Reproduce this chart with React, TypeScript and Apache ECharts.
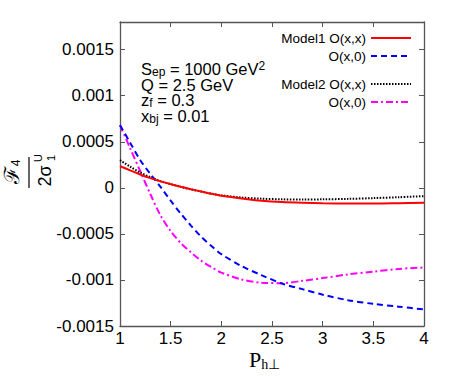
import React, { useEffect, useRef } from 'react';
import * as echarts from 'echarts';

const xValues = [1.0, 1.1, 1.2, 1.3, 1.4, 1.5, 1.6, 1.7, 1.8, 1.9, 2.0, 2.2, 2.4, 2.6, 2.8, 3.0, 3.25, 3.5, 3.75, 4.0];
const model1Oxx = [0.000235, 0.00019, 0.000145, 0.000105, 0.00007, 0.00004, 0.000012, -0.000015, -0.00004, -0.000065, -0.000085, -0.000115, -0.00014, -0.000155, -0.000163, -0.000168, -0.00017, -0.00017, -0.000167, -0.000163];
const model1Ox0 = [0.00068, 0.00049, 0.0003, 0.00015, 0.00001, -0.00014, -0.00028, -0.00041, -0.00053, -0.00063, -0.00072, -0.00085, -0.00095, -0.00104, -0.0011, -0.00116, -0.00122, -0.00126, -0.00129, -0.00132];
const model2Oxx = [0.0003, 0.00023, 0.000165, 0.000115, 0.000072, 0.00004, 0.00001, -0.000017, -0.00004, -0.000063, -0.000082, -0.000105, -0.000118, -0.000125, -0.000127, -0.000125, -0.00012, -0.000112, -0.000102, -0.00009];
const model2Ox0 = [0.00068, 0.00043, 0.00018, -0.00007, -0.0003, -0.00047, -0.0006, -0.0007, -0.00079, -0.00086, -0.00092, -0.000995, -0.00103, -0.001035, -0.00101, -0.00098, -0.00094, -0.00091, -0.00088, -0.000865];

const seriesNames = ['Model1 O(x,x)', 'Model1 O(x,0)', 'Model2 O(x,x)', 'Model2 O(x,0)'];
const yTickValues = [-0.0015, -0.001, -0.0005, 0, 0.0005, 0.001, 0.0015];
const yTickLabels = ['-0.0015', '-0.001', '-0.0005', '0', '0.0005', '0.001', '0.0015'];
const xTickLabels = ['1', '1.5', '2', '2.5', '3', '3.5', '4'];

const SANS = '"Liberation Sans", Arial, Helvetica, sans-serif';
const SERIF = '"Liberation Serif", "Times New Roman", serif';

const pairs = (ys: number[]) => xValues.map((x, i) => [x, ys[i]]);

export default function App() {
  const ref = useRef<HTMLDivElement>(null);
  useEffect(() => {
    document.body.style.margin = '0';
    const chart = echarts.init(ref.current!, null, { renderer: 'svg' });
    const axisColor = '#555';
    const richAnn = {
      b: { fontSize: 16.5, fontFamily: SANS, color: '#000', lineHeight: 18 },
      s: { fontSize: 12, fontFamily: SANS, color: '#000', lineHeight: 6, verticalAlign: 'bottom' },
      p: { fontSize: 12, fontFamily: SANS, color: '#000', lineHeight: 14, verticalAlign: 'top' },
    };
    const annLines = [
      '{b|S}{s|ep}{b| = 1000 GeV}{p|2}',
      '{b|Q = 2.5 GeV}',
      '{b|z}{s|f}{b| = 0.3}',
      '{b|x}{s|bj}{b| = 0.01}',
    ];
    const annTops = [60, 76, 91.5, 107];
    const lineDefs = [
      { color: '#ff0000', type: 'solid' as any },
      { color: '#0000ff', type: [6, 4] },
      { color: '#000000', type: [1.5, 1.5] },
      { color: '#ff00ff', type: [7, 3, 2, 3] },
    ];
    const data = [model1Oxx, model1Ox0, model2Oxx, model2Ox0];
    const legendBase = {
      orient: 'vertical',
      right: 38,
      align: 'right',
      itemWidth: 40,
      itemHeight: 12,
      itemGap: 4,
      padding: 0,
      selectedMode: false,
      itemStyle: { color: 'rgba(0,0,0,0)', borderWidth: 0, borderColor: 'rgba(0,0,0,0)' },
      textStyle: { fontSize: 13.5, fontFamily: SANS, color: '#000' },
      formatter: (n: string) => (n.endsWith('O(x,0)') ? 'O(x,0)' : n),
    };
    const axisLine = { show: true, onZero: false, lineStyle: { color: axisColor, width: 1.3 } };
    const axisTick = { show: true, inside: true, length: 5, lineStyle: { color: axisColor } };
    chart.setOption({
      animation: false,
      backgroundColor: '#fff',
      grid: { left: 120, right: 26, top: 22, bottom: 56 },
      legend: [
        { ...legendBase, top: 31, data: [seriesNames[0], seriesNames[1]] },
        { ...legendBase, top: 77, data: [seriesNames[2], seriesNames[3]] },
      ],
      xAxis: [
        {
          type: 'value', min: 1, max: 4, interval: 0.5, position: 'bottom',
          axisLine, axisTick,
          splitLine: { show: false },
          axisLabel: {
            margin: 4, fontSize: 17, fontFamily: SANS, color: '#000',
            formatter: (v: number) => {
              const i = Math.round((v - 1) / 0.5);
              return xTickLabels[i] ?? '';
            },
          },
        },
        {
          type: 'value', min: 1, max: 4, interval: 0.5, position: 'top',
          axisLine, axisTick,
          axisLabel: { show: false }, splitLine: { show: false },
        },
      ],
      yAxis: [
        {
          type: 'value', min: -0.0015, max: 0.0018, interval: 0.0005, position: 'left',
          axisLine, axisTick,
          splitLine: { show: false },
          axisLabel: {
            margin: 6, fontSize: 17, fontFamily: SANS, color: '#000', showMaxLabel: false,
            formatter: (v: number) => {
              const i = yTickValues.findIndex((t) => Math.abs(t - v) < 1e-9);
              return i >= 0 ? yTickLabels[i] : '';
            },
          },
        },
        {
          type: 'value', min: -0.0015, max: 0.0018, interval: 0.0005, position: 'right',
          axisLine, axisTick,
          axisLabel: { show: false }, splitLine: { show: false },
        },
      ],
      series: seriesNames.map((name, k) => ({
        name,
        type: 'line',
        xAxisIndex: 0,
        yAxisIndex: 0,
        data: pairs(data[k]),
        smooth: 0.3,
        symbol: 'none',
        showSymbol: false,
        color: lineDefs[k].color,
        lineStyle: { color: lineDefs[k].color, width: 2, type: lineDefs[k].type },
        z: 10 - k,
      })),
      graphic: [
        ...annLines.map((t, i) => ({
          type: 'text',
          left: 141,
          top: annTops[i],
          style: { text: t, rich: richAnn },
        })),
        {
          type: 'group',
          x: 29,
          y: 172,
          rotation: Math.PI / 2,
          children: [
            { type: 'text', x: -3, y: -17, style: { text: 'ℱ', fontSize: 21, fontFamily: '"DejaVu Serif", serif', fill: '#000', align: 'center', verticalAlign: 'middle' } },
            { type: 'text', x: 9, y: -13, style: { text: '4', fontSize: 12, fontFamily: SANS, fill: '#000', align: 'center', verticalAlign: 'middle' } },
            { type: 'line', shape: { x1: -16, y1: 0, x2: 15, y2: 0 }, style: { stroke: '#000', lineWidth: 1.2 } },
            { type: 'text', x: -4, y: 16, style: { text: '2σ', fontSize: 18, fontFamily: SANS, fill: '#000', align: 'center', verticalAlign: 'middle' } },
            { type: 'text', x: 14, y: 9, style: { text: 'U', fontSize: 11, fontFamily: SANS, fill: '#000', align: 'center', verticalAlign: 'middle' } },
            { type: 'text', x: 14, y: 22, style: { text: '1', fontSize: 11, fontFamily: SANS, fill: '#000', align: 'center', verticalAlign: 'middle' } },
          ],
        },
        {
          type: 'text',
          left: 249,
          top: 348,
          style: {
            text: '{P|P}{s|h⊥}',
            rich: {
              P: { fontSize: 22, fontFamily: SERIF, color: '#000', lineHeight: 24 },
              s: { fontSize: 14, fontFamily: SERIF, color: '#000', lineHeight: 10, verticalAlign: 'bottom' },
            },
          },
        },
      ],
    });
    return () => chart.dispose();
  }, []);
  return <div ref={ref} style={{ width: 450, height: 382 }} />;
}
